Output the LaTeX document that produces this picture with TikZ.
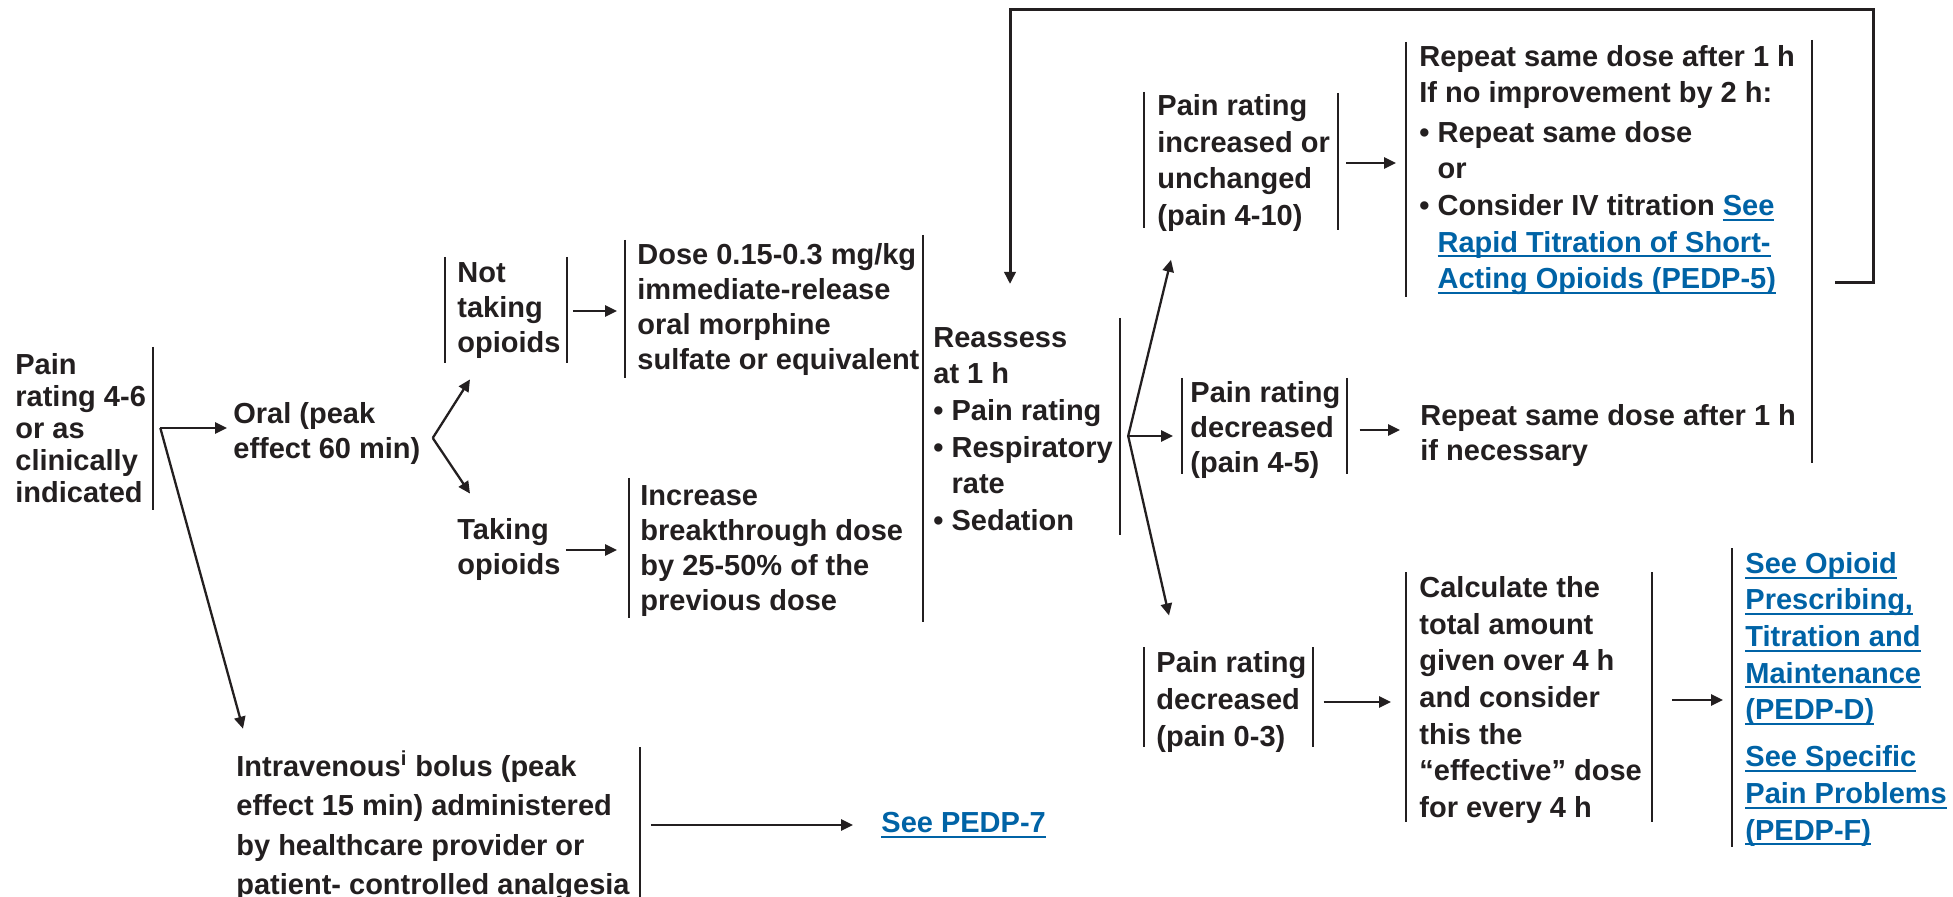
\documentclass[tikz,border=0pt]{standalone}
\usepackage{fontspec}
\setmainfont{Liberation Sans}
\usetikzlibrary{arrows.meta}
\definecolor{ink}{HTML}{231F20}
\definecolor{linkblue}{HTML}{0063A6}
\newcommand{\lnk}[1]{\textcolor{linkblue}{\setbox0\hbox{#1}\rlap{\rule[-2.6pt]{\wd0}{1pt}}\box0}}
\newcommand{\hang}{\hphantom{•\ }}
\tikzset{
    cell/.style={
        anchor=west, inner sep=0pt, align=left, text=ink,
        font=\fontsize{14.5}{17.5}\selectfont\bfseries
    },
    celltight/.style={cell, font=\fontsize{14.5}{16}\selectfont\bfseries},
    cellloose/.style={cell, font=\fontsize{14.5}{18.3}\selectfont\bfseries},
    cellwide/.style={cell, font=\fontsize{14.5}{19.75}\selectfont\bfseries},
    bar/.style={draw=ink, line width=1.45pt},
    wire/.style={draw=ink, line width=1.15pt, -{Triangle[length=6pt, width=5.6pt]}},
    loopwire/.style={wire, line width=1.5pt}
}

\begin{document}
\begin{tikzpicture}[x=0.5pt, y=-0.5pt]
\useasboundingbox (0,0) rectangle (1953,897);

% Entry (left)
\node[celltight] (pain46) at (15,428) {Pain\\rating 4-6\\or as\\clinically\\indicated};

% Routes
\node[cell] (oral) at (233,434) {Oral (peak\\effect 60 min)};
\node[cellwide] (iv) at (236,826) {Intravenous\textsuperscript{i} bolus (peak\\effect 15 min) administered\\by healthcare provider or\\patient- controlled analgesia};
\node[cell] (pedp7) at (881,825) {\lnk{See PEDP-7}};

% Opioid status
\node[cell] (nottake) at (457,311) {Not\\taking\\opioids};
\node[cell] (take) at (457,550) {Taking\\opioids};

% Oral dosing
\node[cell] (dose) at (637,310) {Dose 0.15-0.3 mg/kg\\immediate-release\\oral morphine\\sulfate or equivalent};
\node[cell] (incr) at (640,551) {Increase\\breakthrough dose\\by 25-50\% of the\\previous dose};

% Reassessment
\node[cellloose] (reassess) at (933,429) {Reassess\\at 1 h\\• Pain rating\\• Respiratory\\\hang rate\\• Sedation};

% Pain outcomes
\node[cellloose] (painup) at (1157,163) {Pain rating\\increased or\\unchanged\\(pain 4-10)};
\node[cell] (paindown) at (1190,430) {Pain rating\\decreased\\(pain 4-5)};
\node[cellloose] (painlow) at (1156,702) {Pain rating\\decreased\\(pain 0-3)};

% Actions
\node[cellloose] (repeatA) at (1419,170) {Repeat same dose after 1 h\\If no improvement by 2 h:\\[1.5pt]• Repeat same dose\\\hang or\\• Consider IV titration \lnk{See}\\\hang\lnk{Rapid Titration of Short-}\\\hang\lnk{Acting Opioids (PEDP-5)}};
\node[cell] (repeatB) at (1420,436) {Repeat same dose after 1 h\\if necessary};
\node[cellloose] (calc) at (1419,700) {Calculate the\\total amount\\given over 4 h\\and consider\\this the\\“effective” dose\\for every 4 h};
\node[cellloose] (seeop) at (1745,639) {\lnk{See Opioid}\\\lnk{Prescribing,}\\\lnk{Titration and}\\\lnk{Maintenance}\\\lnk{(PEDP-D)}};
\node[cellloose] (seespec) at (1745,796) {\lnk{See Specific}\\\lnk{Pain Problems}\\\lnk{(PEDP-F)}};

% Side bars
\foreach \x/\ya/\yb in {153/347/510, 445/257/363, 567/257/363, 625/240/378,
    923/235/622, 629/478/618, 1120/318/535, 1144/92/228, 1338/93/230,
    1406/42/297, 1812/40/463, 1182/378/474, 1347/378/474, 1144/647/747,
    1313/647/747, 1406/572/822, 1652/572/822, 1732/548/847, 640/747/897}
    \draw[bar] (\x,\ya) -- (\x,\yb);

% Fork points
\coordinate (painfork) at ([xshift=7pt]pain46.east);
\coordinate (oralfork) at ([xshift=6pt,yshift=-2pt]oral.east);
\coordinate (reafork) at ([xshift=7.5pt,yshift=-3.5pt]reassess.east);

% Connections
\draw[wire, shorten >=3pt] (painfork) -- (painfork -| oral.west);
\draw[wire] (painfork) -- ([xshift=3.5pt,yshift=11pt]iv.north west);
\draw[wire] (oralfork) -- ([xshift=6.5pt,yshift=-10pt]nottake.south west);
\draw[wire] (oralfork) -- ([xshift=6.5pt,yshift=12.5pt]take.north west);
\draw[wire, shorten <=6pt, shorten >=10pt] (nottake.east) -- (nottake.east -| dose.west);
\draw[wire, shorten <=2.5pt, shorten >=11.5pt] (take.east) -- (take.east -| incr.west);
\draw[wire] (reafork) -- ([xshift=7pt,yshift=-14pt]painup.south west);
\draw[wire, shorten >=8.5pt] (reafork) -- (reafork -| paindown.west);
\draw[wire] (reafork) -- ([xshift=6.5pt,yshift=18pt]painlow.north west);
\draw[wire, shorten <=8pt, shorten >=11.5pt] (painup.east) -- (painup.east -| repeatA.west);
\draw[wire, shorten <=9.5pt, shorten >=10pt] (paindown.east) -- (paindown.east -| repeatB.west);
\draw[wire, shorten <=8.5pt, shorten >=14pt] (painlow.east) -- (painlow.east -| calc.west);
\draw[wire, shorten <=15pt, shorten >=11pt] (calc.east) -- (calc.east -| seeop.west);
\draw[wire, shorten <=10.5pt, shorten >=14pt] (pedp7.west -| iv.east) -- (pedp7.west);

% Loop back to reassessment
\coordinate (loopout) at ([xshift=20pt,yshift=6.5pt]repeatA.south east);
\coordinate (looptop) at (1873,10);
\coordinate (loopin) at ([xshift=38.5pt,yshift=21.5pt]reassess.north west);
\draw[loopwire] (loopout) -| (looptop) -| (loopin);

\end{tikzpicture}
\end{document}
